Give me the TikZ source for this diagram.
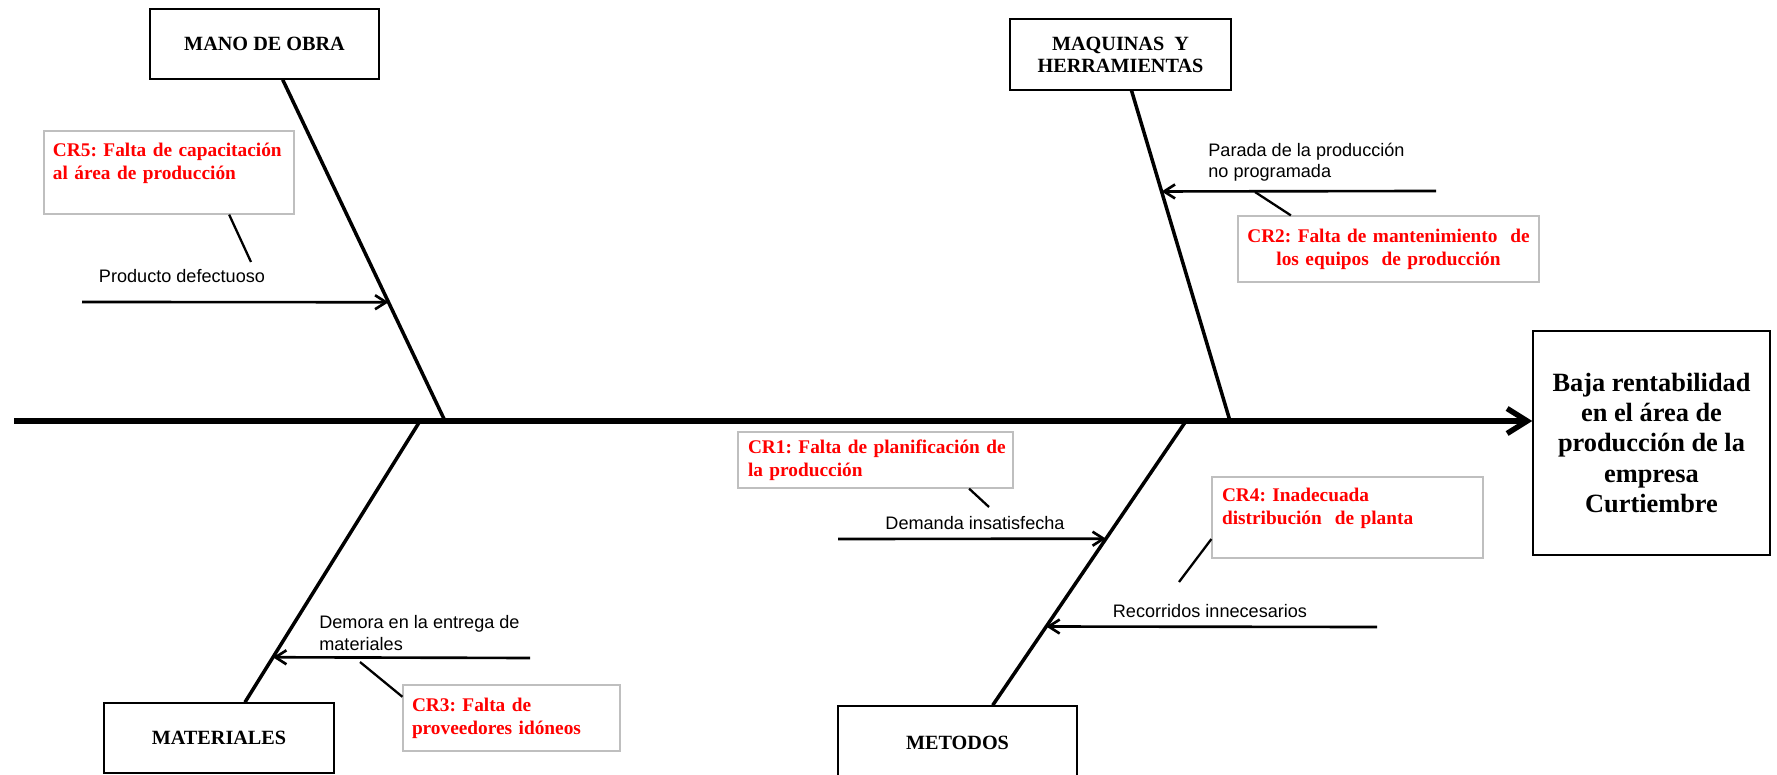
\documentclass[tikz,border=0pt]{standalone}
\usepackage{fontspec}
\setmainfont{Liberation Serif}
\setsansfont{Liberation Sans}
\usetikzlibrary{calc,arrows.meta}

\definecolor{crred}{RGB}{255,0,0}
\definecolor{crgray}{RGB}{191,191,191}

\tikzset{
  categoria/.style={draw=black, line width=0.85pt, align=center, inner sep=0pt,
    font=\fontsize{11.5}{12.5}\selectfont\bfseries},
  efecto/.style={draw=black, line width=0.85pt, align=center, inner sep=0pt,
    font=\fontsize{15}{17.1}\selectfont\bfseries},
  crbox/.style={draw=crgray, line width=0.7pt, text=crred, inner xsep=1mm, inner ysep=0pt,
    font=\fontsize{11}{13.1}\selectfont\bfseries\frenchspacing},
  causa/.style={inner sep=0pt, font=\sffamily\fontsize{10.3}{12}\selectfont},
  espina/.style={line width=3.1pt, -{Straight Barb[length=4mm, width=5mm]}},
  hueso/.style={line width=2pt},
  subcausa/.style={line width=1.5pt, -{Straight Barb[length=2.2mm, width=2.8mm]}},
  enlace/.style={line width=1.3pt},
}

\begin{document}
\begin{tikzpicture}[x=0.2mm, y=-0.2mm]

\useasboundingbox (0,0) rectangle (1777,775);

% Effect (head)
\node[efecto, minimum width=47.4mm, minimum height=44.8mm] (efecto) at (1651.5,443)
  {Baja rentabilidad\\en el área de\\producción de la\\empresa\\Curtiembre};

% Main spine
\coordinate (cola) at (14,421);
\draw[espina] (cola) -- (efecto.west |- cola);

% Categories
\node[categoria, minimum width=45.8mm, minimum height=14mm]   (mano)       at (264.5,44)   {MANO DE OBRA};
\node[categoria, minimum width=44.2mm, minimum height=14.2mm] (maquinas)   at (1120.5,54.5) {MAQUINAS\ \ Y\\HERRAMIENTAS};
\node[categoria, minimum width=46mm,   minimum height=14mm]   (materiales) at (219,738)    {MATERIALES};
\node[categoria, minimum width=47.8mm, minimum height=14.8mm] (metodos)    at (957.5,743)  {METODOS};

% Bones
\coordinate (pMano)       at (445,421);
\coordinate (pMaquinas)   at (1230,421);
\coordinate (pMateriales) at (420,421);
\coordinate (pMetodos)    at (1186,421);
\draw[hueso] (mano.-63.4)      -- (pMano);
\draw[hueso] (maquinas.-73.5)  -- (pMaquinas);
\draw[hueso] (materiales.54.5) -- (pMateriales);
\draw[hueso] (metodos.47.8)    -- (pMetodos);

% Sub-causes (arrows)
\coordinate (sProducto)   at (82,302);
\coordinate (sParada)     at (1436,191);
\coordinate (sDemora)     at (530,658);
\coordinate (sDemanda)    at (838,539);
\coordinate (sRecorridos) at (1377,627);
\draw[subcausa] (sProducto)   -- ($(mano.-63.4)!0.652!(pMano)$);
\draw[subcausa] (sParada)     -- ($(maquinas.-73.5)!0.305!(pMaquinas)$);
\draw[subcausa] (sDemora)     -- ($(pMateriales)!0.840!(materiales.54.5)$);
\draw[subcausa] (sDemanda)    -- ($(pMetodos)!0.414!(metodos.47.8)$);
\draw[subcausa] (sRecorridos) -- ($(pMetodos)!0.723!(metodos.47.8)$);

% Sub-cause labels
\node[causa, anchor=base]                   (lProducto)   at (182,283)  {Producto defectuoso};
\node[causa, anchor=base west, align=left]  (lParada)     at (1208,178) {Parada de la producción\\no programada};
\node[causa, anchor=base west, align=left]  (lDemora)     at (319,650)  {Demora en la entrega de\\materiales};
\node[causa, anchor=base]                   (lDemanda)    at (975,530)  {Demanda insatisfecha};
\node[causa, anchor=base]                   (lRecorridos) at (1210,617) {Recorridos innecesarios};

% Root causes (red boxes)
\node[crbox, minimum width=50mm, minimum height=16.6mm, text width=46.4mm, align=left] (cr5) at (169,172.5)
  {CR5: Falta de capacitación\\al área de producción\\~};
\node[crbox, minimum width=60.2mm, minimum height=13.2mm, text width=58mm, align=center] (cr2) at (1388.5,249)
  {CR2: Falta de mantenimiento\ \ de\\los equipos\ \ de producción};
\node[crbox, minimum width=55mm, minimum height=11.2mm, text width=51mm, align=left] (cr1) at (875.5,460)
  {\makebox[\linewidth][s]{CR1: Falta de planificación de}\\la producción};
\node[crbox, minimum width=54.2mm, minimum height=16.2mm, text width=50.2mm, align=left] (cr4) at (1347.5,517.5)
  {CR4: Inadecuada\\distribución\ \ de planta\\~};
\node[crbox, minimum width=43.4mm, minimum height=13.2mm, text width=39.8mm, align=left] (cr3) at (511.5,718)
  {CR3: Falta de\\proveedores idóneos};

% Links from root causes
\coordinate (eCR5) at (251,262);
\coordinate (eCR2) at (1255,192);
\coordinate (eCR1) at (989,507);
\coordinate (eCR4) at (1179,582);
\coordinate (eCR3) at (360,662);
\draw[enlace] (cr5.-35.6)  -- (eCR5);
\draw[enlace] (eCR2)       -- (cr2.161.8);
\draw[enlace] (cr1.-17)    -- (eCR1);
\draw[enlace] (cr4.-171.8) -- (eCR4);
\draw[enlace] (eCR3)       -- (cr3.169.6);

\end{tikzpicture}
\end{document}
